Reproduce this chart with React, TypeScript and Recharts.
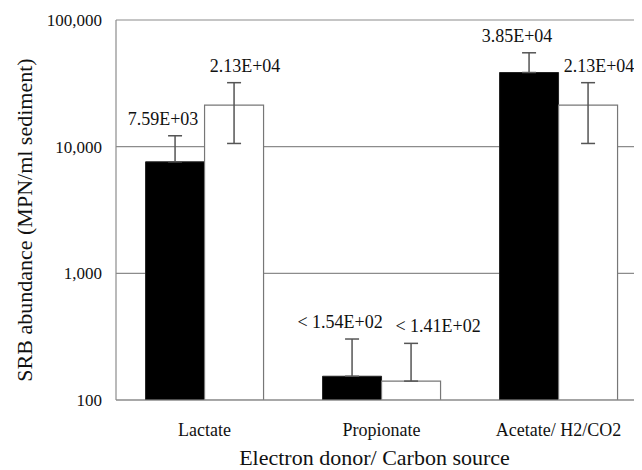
import { BarChart, Bar, XAxis, YAxis, CartesianGrid, ErrorBar, LabelList, Label } from 'recharts';

const categories = ['Lactate', 'Propionate', 'Acetate/ H2/CO2'];
const blackValues = [7590, 154, 38500];
const whiteValues = [21300, 141, 21300];
const blackErrUp = [4600, 149, 16600];
const blackErrDown = [0, 0, 0];
const whiteErrUp = [10700, 139, 10700];
const whiteErrDown = [10700, 0, 10700];
const blackLabels = ['7.59E+03', '< 1.54E+02', '3.85E+04'];
const whiteLabels = ['2.13E+04', '< 1.41E+02', '2.13E+04'];
const yTicks = [100, 1000, 10000, 100000];

const data = categories.map((name, i) => ({
  name,
  black: blackValues[i],
  white: whiteValues[i],
  blackErr: [blackErrDown[i], blackErrUp[i]],
  whiteErr: [whiteErrDown[i], whiteErrUp[i]],
}));

const FONT = 'Liberation Serif, Times New Roman, serif';
const GRID = '#8c8c8c';

// label sits above the top of the error bar; bar height gives pixels per decade.
// longer white labels get pushed right so neighbours don't collide
const makeLabel = (labels: string[], values: number[], errUp: number[], dx: number, push: number) => (props: any) => {
  const { x, y, width, height, index } = props;
  const v = values[index];
  const ppd = height / (Math.log10(v) - 2);
  const top = y - (Math.log10(v + errUp[index]) - Math.log10(v)) * ppd;
  const shift = dx + (labels[index].length - 8) * push;
  return (
    <text x={x + width / 2 + shift} y={top - 11} textAnchor="middle" style={{ fontFamily: FONT }} fontSize={18} fill="#111">
      {labels[index]}
    </text>
  );
};

export default function App() {
  return (
    <div style={{ width: 634, overflow: 'hidden', fontFamily: FONT }}>
      <BarChart
        width={660}
        height={462}
        data={data}
        margin={{ top: 12, right: 21, left: 0, bottom: 0 }}
        barCategoryGap="16.7%"
        barGap={0}
        style={{ fontFamily: FONT }}
      >
        <CartesianGrid vertical={false} stroke={GRID} strokeWidth={1.2} />
        <XAxis
          dataKey="name"
          axisLine={{ stroke: GRID, strokeWidth: 1.2 }}
          tickLine={false}
          tickSize={6}
          tickMargin={17}
          height={70}
          tick={{ fontSize: 18, fill: '#111', style: { fontFamily: FONT } }}
        >
          <Label
            content={({ viewBox }: any) => (
              <text
                x={viewBox.x + viewBox.width / 2 - 7}
                y={viewBox.y + 65}
                textAnchor="middle"
                style={{ fontFamily: FONT }}
                fontSize={22}
                fill="#111"
              >
                Electron donor/ Carbon source
              </text>
            )}
          />
        </XAxis>
        <YAxis
          scale="log"
          domain={[100, 100000]}
          ticks={yTicks}
          allowDataOverflow
          width={108}
          axisLine={{ stroke: GRID, strokeWidth: 1.2 }}
          tickLine={false}
          tickSize={6}
          tickMargin={8}
          tickFormatter={(v: number) => v.toLocaleString('en-US')}
          tick={{ fontSize: 17, fill: '#111', style: { fontFamily: FONT } }}
        >
          <Label
            content={({ viewBox }: any) => {
              const cx = 24;
              const cy = viewBox.y + viewBox.height / 2 + 10;
              return (
                <text
                  x={cx}
                  y={cy}
                  transform={`rotate(-90, ${cx}, ${cy})`}
                  textAnchor="middle"
                  style={{ fontFamily: FONT }}
                  fontSize={22}
                  fill="#111"
                >
                  SRB abundance (MPN/ml sediment)
                </text>
              );
            }}
          />
        </YAxis>
        <Bar dataKey="black" fill="#000" stroke="#222" strokeWidth={1} isAnimationActive={false}>
          <ErrorBar dataKey="blackErr" width={7} stroke="#555" strokeWidth={1.5} />
          <LabelList dataKey="black" content={makeLabel(blackLabels, blackValues, blackErrUp, -12, 0)} />
        </Bar>
        <Bar dataKey="white" fill="#fff" stroke="#777" strokeWidth={1.2} isAnimationActive={false}>
          <ErrorBar dataKey="whiteErr" width={7} stroke="#555" strokeWidth={1.5} />
          <LabelList dataKey="white" content={makeLabel(whiteLabels, whiteValues, whiteErrUp, 11, 8)} />
        </Bar>
      </BarChart>
    </div>
  );
}
